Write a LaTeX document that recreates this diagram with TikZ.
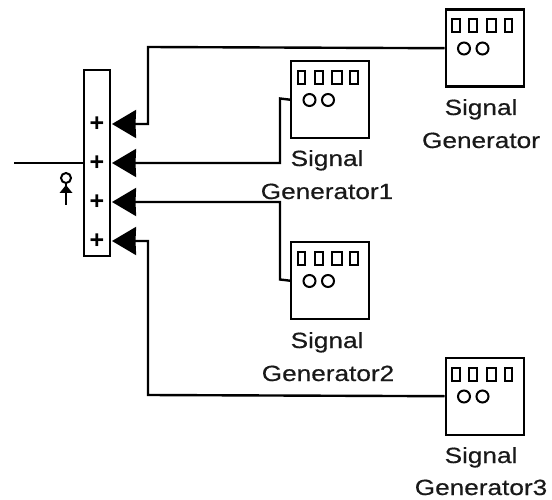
\documentclass[tikz,border=0pt]{standalone}
\usepackage{fontspec}
\newfontfamily\lab[FakeStretch=1.19,FakeBold=0.5]{Liberation Sans}
\newfontfamily\plusfont{Liberation Sans Bold}
\usetikzlibrary{arrows.meta}
\tikzset{
  wire/.style={line width=2.4pt,line join=miter},
  input/.style={wire,-{Stealth[length=24pt,width=28pt,inset=0.5pt]}},
  sumbox/.style={draw,line width=2.4pt,minimum width=26pt,minimum height=186pt,inner sep=0pt},
  genbox/.style={draw,line width=2.4pt,minimum width=78pt,minimum height=77pt,inner sep=0pt},
  lbl/.style={font=\lab\fontsize{22}{24}\selectfont,inner sep=0pt,anchor=base,text=black!90},
  plus/.style={font=\plusfont\fontsize{25}{25}\selectfont,inner sep=0pt},
  detail/.style={line width=2pt}
}
\newcommand{\sgblock}[3]{%
  \node[genbox,anchor=north west] (#1) at (#2,#3) {};
  \begin{scope}[shift={(#2,#3)}]
    \draw[detail] (7.5,11) rectangle (15,24);
    \draw[detail] (24.5,11) rectangle (32.5,24);
    \draw[detail] (42,11) rectangle (51.5,24);
    \draw[detail] (60,11) rectangle (67.5,24);
    \draw[detail] (19.5,40) circle (6);
    \draw[detail] (38,40) circle (6);
  \end{scope}}
\begin{document}
\begin{tikzpicture}[x=1pt,y=-1pt]
  \useasboundingbox (0,0) rectangle (552,500);
  % sum block
  \node[sumbox] (sum) at (97,163) {};
  \node[plus] (p1) at (97,124) {+};
  \node[plus] (p2) at (97,163) {+};
  \node[plus] (p3) at (97,202) {+};
  \node[plus] (p4) at (97,241) {+};
  \coordinate (in1) at (112,124);
  \coordinate (in2) at (112,163);
  \coordinate (in3) at (112,202);
  \coordinate (in4) at (112,241);
  \coordinate (out) at (14,163);
  % generators
  \sgblock{g0}{444.5}{8.5}
  \sgblock{g1}{290}{60}
  \sgblock{g2}{290}{241}
  \sgblock{g3}{444.5}{356.5}
  % labels
  \node[lbl] (g0a) at (481,115) {Signal};
  \node[lbl] (g0b) at (481,148) {Generator};
  \node[lbl] (g1a) at (327,166) {Signal};
  \node[lbl] (g1b) at (327,199) {Generator1};
  \node[lbl] (g2a) at (327,348) {Signal};
  \node[lbl] (g2b) at (328,381) {Generator2};
  \node[lbl] (g3a) at (481,463) {Signal};
  \node[lbl] (g3b) at (481,495) {Generator3};
  % connectors
  \draw[input] (g0.west) -- (148,47) -- (148,124) -- (in1);
  \draw[input] (g1.west) -- (280,98.5) -- (280,163) -- (in2);
  \draw[input] (g2.west) -- (280,279.5) -- (280,202) -- (in3);
  \draw[input] (g3.west) -- (148,395) -- (148,241) -- (in4);
  \draw[wire] (out) -- (sum.west |- out);
  % terminator symbol
  \draw[line width=2pt] (66,178) circle (5);
  \draw[line width=2pt] (66,184) -- (66,205);
  \fill (66,185) -- (72.5,193) -- (59.5,193) -- cycle;
\end{tikzpicture}
\end{document}
